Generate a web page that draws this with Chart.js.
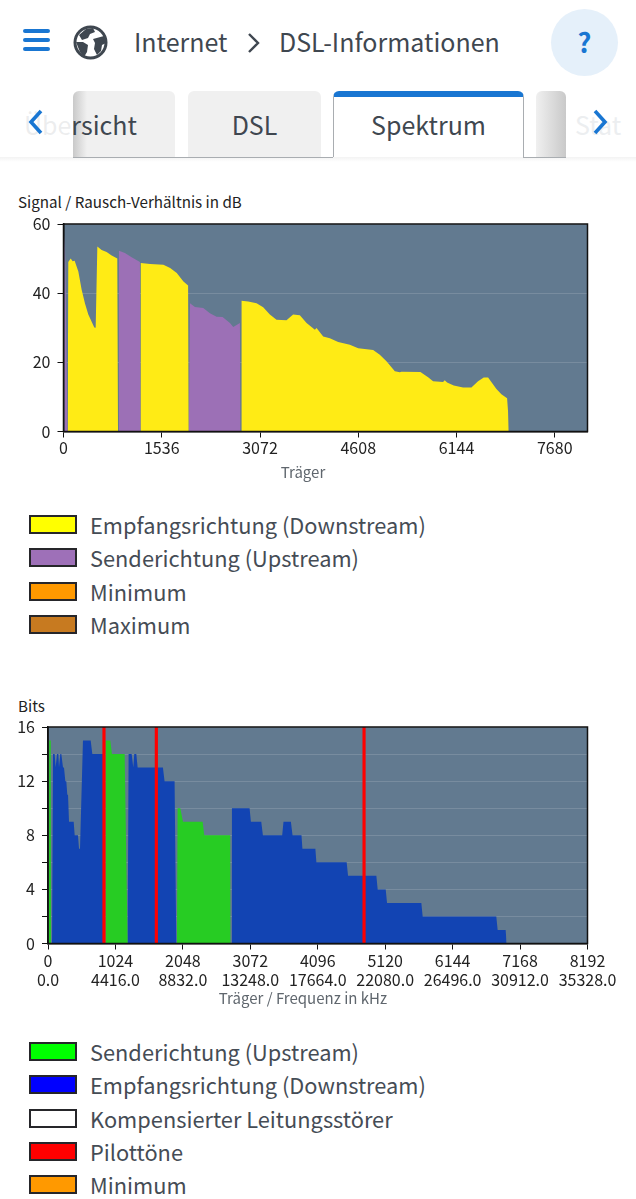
<!DOCTYPE html>
<html lang="de">
<head>
<meta charset="utf-8">
<title>DSL-Informationen</title>
<script src="https://cdn.jsdelivr.net/npm/chart.js@4/dist/chart.umd.min.js"></script>
<style>
  html, body { margin: 0; padding: 0; background: #fff; }
  body { position: relative; width: 636px; height: 1199px; overflow: hidden;
         font-family: "Noto Sans CJK SC", "Noto Sans", sans-serif; color: #3f4750; }
  .abs { position: absolute; white-space: nowrap; }
  canvas { position: absolute; left: 0; }
  .ham { position: absolute; left: 23px; width: 27px; height: 4px; border-radius: 2px; background: #1976d2; }
  .tab { position: absolute; top: 91px; height: 66px; background: #f0f0f0; border-radius: 6px 6px 0 0;
         font-size: 25px; line-height: 66px; text-align: center; box-sizing: border-box; }
  .tab.active { background: #fff; border: 1.5px solid #a9adb1; border-top: 6px solid #1976d2; border-bottom: 0; line-height: 54px; }
  .chartTitle { font-size: 15.2px; color: #222; line-height: 18px; }
  .axisTitle { font-size: 15px; color: #5f666d; transform: translateX(-50%); line-height: 18px; }
  .legendRow { position: absolute; left: 29px; height: 19px; }
  .legendRow i { position: absolute; left: 0; top: 0; width: 48px; height: 19px; box-sizing: border-box; border: 2px solid #26262a; }
  .legendRow span { position: absolute; left: 61px; top: -6px; font-size: 21.8px; line-height: 32px; white-space: nowrap; color: #454c55; }
</style>
</head>
<body>

<!-- Kopfzeile -->
<div class="ham" style="top:29px"></div>
<div class="ham" style="top:38px"></div>
<div class="ham" style="top:47px"></div>
<svg class="abs" style="left:73px;top:25px" width="35" height="35" viewBox="0 0 35 35">
  <circle cx="17.5" cy="17.5" r="15.5" fill="#fff" stroke="#3f4750" stroke-width="3"/>
  <path d="M6 10 L13 4 L20 3 L22 7 L17 9 L15 13 L9 15 Z M3 17 L10 17 L15 20 L14 27 L11 32 L7 27 Z M20 14 L31 11 L33 18 L29 20 L28 26 L24 30 L21 24 L22 18 Z" fill="#3f4750"/>
</svg>
<div class="abs" style="left:134px;top:22px;font-size:25px;line-height:38px">Internet</div>
<svg class="abs" style="left:245px;top:32px" width="18" height="22" viewBox="0 0 18 22">
  <path d="M4 2 L13 11 L4 20" fill="none" stroke="#3f4750" stroke-width="2.4"/>
</svg>
<div class="abs" style="left:279px;top:22px;font-size:25px;line-height:38px">DSL-Informationen</div>
<div class="abs" style="left:551px;top:9px;width:67px;height:67px;border-radius:50%;background:#e5f0fa;color:#1976d2;font-size:27px;font-weight:700;line-height:66px;text-align:center">?</div>

<!-- Reiter -->
<div class="abs" style="left:0;top:157px;width:636px;height:5px;background:linear-gradient(#f3f3f3,#fff)"></div>
<div class="tab" style="left:73px;width:102px;background:linear-gradient(90deg,#c9c9c9,#f0f0f0 14px)"></div>
<div class="abs" style="left:24px;top:105px;font-size:25px;line-height:38px;color:#3f4750">Übersicht</div>
<div class="abs" style="left:0;top:91px;width:73px;height:66px;background:rgba(255,255,255,0.9)"></div>
<div class="tab" style="left:188px;width:133px">DSL</div>
<div class="tab active" style="left:333px;width:191px">Spektrum</div>
<div class="tab" style="left:536px;width:30px;background:linear-gradient(90deg,#f0f0f0,#c9c9c9)"></div>
<div class="abs" style="left:575px;top:105px;font-size:25px;line-height:38px;color:#eceef0">Stat</div>
<div class="abs" style="left:73px;top:156.5px;width:260px;height:1.5px;background:#a9adb1"></div>
<div class="abs" style="left:523px;top:156.5px;width:43px;height:1.5px;background:#a9adb1"></div>
<svg class="abs" style="left:26px;top:108px" width="20" height="28" viewBox="0 0 20 28">
  <path d="M15 3 L5 14 L15 25" fill="none" stroke="#1976d2" stroke-width="3.6"/>
</svg>
<svg class="abs" style="left:590px;top:108px" width="20" height="28" viewBox="0 0 20 28">
  <path d="M5 3 L15 14 L5 25" fill="none" stroke="#1976d2" stroke-width="3.6"/>
</svg>

<div class="abs chartTitle" style="left:18px;top:192px">Signal / Rausch-Verhältnis in dB</div>
<canvas id="snrChart" width="636" height="285" style="top:200px"></canvas>
<div class="abs axisTitle" style="left:303px;top:463px">Träger</div>
<div id="snrLegend"></div>

<div class="abs chartTitle" style="left:18px;top:696px">Bits</div>
<canvas id="bitsChart" width="636" height="320" style="top:695px"></canvas>
<div class="abs axisTitle" style="left:303px;top:989px">Träger / Frequenz in kHz</div>
<div id="bitsLegend"></div>

<script>
// Signal / Rausch-Verhaeltnis
const snrDownCarrier = [65, 75, 112, 143, 174, 232, 284, 336, 388, 482, 503, 529, 596, 674, 753, 841, 852,
  1206, 1208, 1354, 1562, 1667, 1771, 1875, 1948, 1956,
  2775, 2784, 2888, 3018, 3122, 3226, 3330, 3486, 3590, 3695, 3800, 3930, 3956, 4060, 4164, 4294, 4477, 4607,
  4841, 4945, 5049, 5180, 5258, 5284, 5580, 5700, 5778, 5934, 5960, 5997, 6101, 6247, 6377, 6481, 6570, 6638,
  6768, 6846, 6935, 6950, 6961];
const snrDownValues = [0, 49, 50, 49.2, 49.4, 46.3, 41, 37, 33.8, 30.1, 30, 53.5, 52.5, 51.9, 50.9, 50, 0,
  0, 48.7, 48.4, 48.2, 47.3, 45.8, 43.4, 42.2, 0,
  0, 37.8, 37.6, 37.1, 35.9, 33.8, 32.3, 32.2, 33.8, 33.6, 31.4, 29.4, 29.9, 27.5, 27, 25.9, 25.1, 24.1,
  23.6, 22.2, 20.3, 17.4, 17.1, 17.3, 17.2, 15.7, 14.5, 14.3, 14.8, 14.2, 13.3, 12.7, 12.7, 14.5, 15.6, 15.6,
  12.3, 10.8, 9.6, 5.8, 0];
const snrUpCarrier = [8, 14, 22, 30, 62, 860, 867, 960, 1065, 1195, 1204, 1960, 1977, 2055, 2185, 2289, 2393, 2487, 2602, 2654, 2758, 2768];
const snrUpValues = [0, 40, 57, 48, 0, 0, 52.3, 51.6, 50.4, 49, 0, 0, 37.1, 36, 35.7, 34.2, 33.2, 33.1, 31.4, 30.2, 31.4, 0];
const snrYTicks = [0, 20, 40, 60];
const snrXTicks = [0, 1536, 3072, 4608, 6144, 7680];

// Bits pro Traeger
const bitsUpCarrier = [15, 18, 42, 45, 870, 875, 946, 971, 1164, 1209, 1958, 1968, 2009, 2050, 2348, 2373, 2768, 2773];
const bitsUpValues = [0, 15, 15, 0, 0, 15, 15, 14, 14, 0, 0, 10, 10, 9, 9, 8, 8, 0];
const bitsDownCarrier = [61, 76, 101, 116, 137, 157, 167, 187, 202, 228, 243, 263, 278, 293, 304, 319, 339, 354, 390, 405, 420, 455, 471, 486, 496,
  531, 648, 673, 865, 866, 1209, 1224, 1270, 1295, 1310, 1341, 1361, 1745, 1770, 1922, 1948,
  2783, 2793, 3061, 3081, 3238, 3263, 3556, 3576, 3688, 3713, 3849, 3863, 4060, 4075, 4535, 4556, 4986, 5006, 5128, 5148, 5669, 5689, 6807, 6828, 6949, 6964];
const bitsDownValues = [0, 14, 14, 13, 14, 14, 13, 14, 14, 13, 13, 12, 12, 11, 11, 9, 9, 9, 9, 8, 8, 8, 7, 7, 7,
  15, 15, 14, 14, 0, 0, 14, 14, 13, 14, 14, 13, 13, 12, 12, 0,
  0, 10, 10, 9, 9, 8, 8, 9, 9, 8, 8, 7, 7, 6, 6, 5, 5, 4, 4, 3, 3, 2, 2, 1, 1, 0];
const pilotCarriers = [850, 1645, 4799];
const bitsXTicks = [0, 1024, 2048, 3072, 4096, 5120, 6144, 7168, 8192];
const bitsFreqLabels = ['0.0', '4416.0', '8832.0', '13248.0', '17664.0', '22080.0', '26496.0', '30912.0', '35328.0'];

// Legenden
const snrLegendLabels = ['Empfangsrichtung (Downstream)', 'Senderichtung (Upstream)', 'Minimum', 'Maximum'];
const snrLegendColors = ['#ffff00', '#9e70b8', '#ff9900', '#c77a20'];
const bitsLegendLabels = ['Senderichtung (Upstream)', 'Empfangsrichtung (Downstream)', 'Kompensierter Leitungsstörer', 'Pilottöne', 'Minimum'];
const bitsLegendColors = ['#00ff00', '#0000ff', '#ffffff', '#ff0000', '#ff9900'];

const FONT = '"Noto Sans CJK SC", "Noto Sans", sans-serif';
const PLOT_BG = '#627a90';

function toPoints(xs, ys) {
    return xs.map((x, i) => ({ x: x, y: ys[i] }));
}

function areaSet(label, xs, ys, color) {
    return { type: 'line', label: label, data: toPoints(xs, ys), backgroundColor: color, borderWidth: 0,
        pointRadius: 0, fill: 'origin', tension: 0 };
}

// Hintergrund und Rahmen der Zeichenflaeche
const plotFrame = {
    id: 'plotFrame',
    beforeDraw(chart) {
        const a = chart.chartArea;
        chart.ctx.fillStyle = PLOT_BG;
        chart.ctx.fillRect(a.left, a.top, a.width, a.height);
    },
    afterDraw(chart) {
        const a = chart.chartArea;
        chart.ctx.strokeStyle = '#111';
        chart.ctx.lineWidth = 1.5;
        chart.ctx.strokeRect(a.left, a.top, a.width, a.height);
    }
};

function baseOptions(left, bottom, top, xTicks, labelPad) {
    return {
        responsive: false,
        animation: false,
        layout: { padding: { top: top, right: 48.5, left: 0, bottom: 0 } },
        plugins: { legend: { display: false }, tooltip: { enabled: false } },
        scales: {
            x: {
                type: 'linear', min: 0, max: 8192, offset: false,
                afterFit(s) { s.height = bottom; },
                afterBuildTicks(s) { s.ticks = xTicks.map(v => ({ value: v })); },
                border: { color: '#111', width: 1.5 },
                grid: { offset: false, drawOnChartArea: false, tickColor: '#111', tickLength: 6 },
                ticks: { color: '#222', font: { family: FONT, size: 16 }, maxRotation: 0, autoSkip: false, padding: labelPad,
                    callback: value => String(value) }
            },
            y: {
                min: 0,
                afterFit(s) { s.width = left; },
                border: { color: '#111', width: 1.5 },
                grid: { color: 'rgba(255,255,255,0.14)', tickColor: '#111', tickLength: 6 },
                ticks: { color: '#222', font: { family: FONT, size: 16 }, padding: 7 }
            }
        }
    };
}

const snrOptions = baseOptions(63.5, 53.5, 24, snrXTicks, 1);
snrOptions.scales.y.max = snrYTicks[snrYTicks.length - 1];
snrOptions.scales.y.ticks.stepSize = snrYTicks[1] - snrYTicks[0];

new Chart(document.getElementById('snrChart'), {
    data: { datasets: [
        areaSet('Empfangsrichtung (Downstream)', snrDownCarrier, snrDownValues, '#ffeb15'),
        areaSet('Senderichtung (Upstream)', snrUpCarrier, snrUpValues, '#9c70b6')
    ] },
    options: snrOptions,
    plugins: [plotFrame]
});

const bitsOptions = baseOptions(48, 71.5, 32, bitsXTicks, 2);
bitsOptions.scales.x.ticks.callback = function(value) {
    return [String(value), bitsFreqLabels[bitsXTicks.indexOf(value)]];
};
bitsOptions.scales.y.max = 16;
bitsOptions.scales.y.ticks.stepSize = 2;
bitsOptions.scales.y.ticks.callback = function(value) {
    return value % 4 === 0 ? value : '';
};

new Chart(document.getElementById('bitsChart'), {
    data: { datasets: [
        { type: 'bar', label: 'Pilottöne', data: pilotCarriers.map(c => ({ x: c, y: 16 })), backgroundColor: '#ff0000', barThickness: 2.5, order: 0 },
        Object.assign(areaSet('Senderichtung (Upstream)', bitsUpCarrier, bitsUpValues, '#27cc23'), { order: 1 }),
        Object.assign(areaSet('Empfangsrichtung (Downstream)', bitsDownCarrier, bitsDownValues, '#1244b3'), { order: 2 })
    ] },
    options: bitsOptions,
    plugins: [plotFrame]
});

function buildLegend(id, labels, colors, top) {
    const box = document.getElementById(id);
    labels.forEach((label, i) => {
        const row = document.createElement('div');
        row.className = 'legendRow';
        row.style.top = (top + i * 33.3) + 'px';
        const swatch = document.createElement('i');
        swatch.style.background = colors[i];
        const text = document.createElement('span');
        text.textContent = label;
        row.append(swatch, text);
        box.appendChild(row);
    });
}
buildLegend('snrLegend', snrLegendLabels, snrLegendColors, 515);
buildLegend('bitsLegend', bitsLegendLabels, bitsLegendColors, 1042);
</script>
</body>
</html>
